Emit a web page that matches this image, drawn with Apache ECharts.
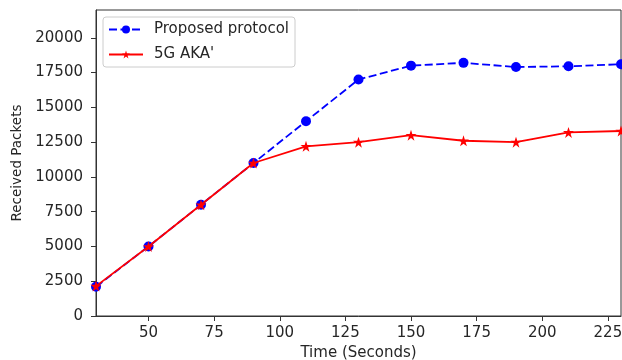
<!DOCTYPE html>
<html>
<head>
<meta charset="utf-8">
<script src="https://cdn.jsdelivr.net/npm/echarts@6/dist/echarts.min.js"></script>
<style>
  html, body { margin: 0; padding: 0; background: #fff; }
  #chart { width: 622px; height: 360px; }
</style>
</head>
<body>
<div id="chart"></div>
<script>
// time points (seconds)
const times = [30, 50, 70, 90, 110, 130, 150, 170, 190, 210, 230];
// received packets
const proposed = [2100, 5000, 8000, 11000, 14000, 17000, 18000, 18200, 17900, 17950, 18100];
const aka = [2150, 5000, 8000, 11000, 12200, 12500, 13000, 12600, 12500, 13200, 13300];
// tick labels
const xTicks = [50, 75, 100, 125, 150, 175, 200, 225];
const yTicks = [0, 2500, 5000, 7500, 10000, 12500, 15000, 17500, 20000];

const font = 'DejaVu Sans';
const axisColor = '#333';
const textColor = '#262626';

const chart = echarts.init(document.getElementById('chart'));

chart.setOption({
  animation: false,
  textStyle: { fontFamily: font },
  grid: {
    left: 96,
    right: 1,
    top: 10,
    bottom: 44,
    show: true,
    borderColor: axisColor,
    borderWidth: 1,
    containLabel: false,
    outerBoundsMode: 'none',
  },
  legend: {
    orient: 'vertical',
    left: 103,
    top: 17,
    padding: [5, 6, 5, 5],
    itemWidth: 34,
    itemHeight: 10,
    itemGap: 10,
    borderColor: '#ccc',
    borderWidth: 1,
    borderRadius: 3,
    textStyle: { fontSize: 15, color: textColor, fontFamily: font, padding: [0, 0, 0, 6] },
    data: ['Proposed protocol', "5G AKA'"],
  },
  xAxis: {
    type: 'value',
    min: 30,
    max: 230,
    name: 'Time (Seconds)',
    nameLocation: 'middle',
    nameGap: 29,
    nameTextStyle: { fontSize: 15, color: textColor, fontFamily: font },
    splitLine: { show: false },
    axisLine: { show: true, lineStyle: { color: axisColor, width: 1 } },
    axisTick: { show: true, inside: false, length: 5, customValues: xTicks, lineStyle: { color: axisColor } },
    axisLabel: { customValues: xTicks, fontSize: 15, color: textColor, margin: 10, fontFamily: font,
      formatter: v => String(v) },
  },
  yAxis: {
    type: 'value',
    min: 0,
    max: 22000,
    name: 'Received Packets',
    nameLocation: 'middle',
    nameGap: 72,
    nameTextStyle: { fontSize: 13.5, color: textColor, fontFamily: font },
    splitLine: { show: false },
    axisLine: { show: true, lineStyle: { color: axisColor, width: 1 } },
    axisTick: { show: true, inside: false, length: 5, customValues: yTicks, lineStyle: { color: axisColor } },
    axisLabel: { customValues: yTicks, fontSize: 15, color: textColor, margin: 13, fontFamily: font,
      formatter: v => String(v) },
  },
  series: [
    {
      name: 'Proposed protocol',
      type: 'line',
      data: times.map((t, i) => [t, proposed[i]]),
      symbol: 'circle',
      symbolSize: 10,
      showAllSymbol: true,
      itemStyle: { color: '#0000ff' },
      lineStyle: { color: '#0000ff', width: 1.8, type: [8, 3.5] },
      clip: false,
      z: 2,
    },
    {
      name: "5G AKA'",
      type: 'line',
      data: times.map((t, i) => [t, aka[i]]),
      symbol: 'path://M0,-1 L0.2245,-0.309 L0.9511,-0.309 L0.3633,0.118 L0.5878,0.809 L0,0.382 L-0.5878,0.809 L-0.3633,0.118 L-0.9511,-0.309 L-0.2245,-0.309 Z',
      symbolSize: 11,
      showAllSymbol: true,
      itemStyle: { color: '#ff0000' },
      lineStyle: { color: '#ff0000', width: 1.8 },
      clip: false,
      z: 3,
    },
  ],
});
</script>
</body>
</html>
